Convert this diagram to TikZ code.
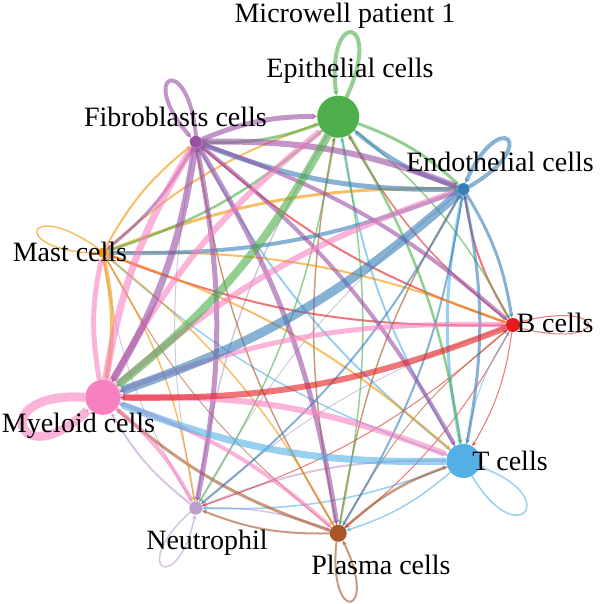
\documentclass[tikz,border=0pt]{standalone}
\usepackage{fontspec}
\setmainfont{Liberation Serif}
\usetikzlibrary{arrows.meta}
\definecolor{colb}{HTML}{E41A1C}
\definecolor{colendo}{HTML}{377EB8}
\definecolor{colepi}{HTML}{4DAF4A}
\definecolor{colfib}{HTML}{984EA3}
\definecolor{colmast}{HTML}{F29403}
\definecolor{colmye}{HTML}{F781BF}
\definecolor{colneu}{HTML}{BC9DCC}
\definecolor{colpla}{HTML}{A65628}
\definecolor{colt}{HTML}{54B0E4}
\begin{document}
\begin{tikzpicture}[x=1pt,y=1pt,
 cell/.style={circle, inner sep=0pt, outer sep=0pt},
 link/.style={opacity=0.6, -{Stealth[length=5pt,width=4.5pt]}},
 lab/.style={font=\fontsize{28}{28}\selectfont, anchor=base, inner sep=0pt}]
\useasboundingbox (-301.5,-279) rectangle (298.5,325);
% cell nodes (positions on the circle)
\foreach \n/\a/\r in {b/0/7, endo/40/6, epi/80/21, fib/120/6, mast/160/5, mye/200/17.5, neu/240/6.5, pla/280/8.5, t/320/17}
  \node[cell, minimum size=2*\r] (\n) at (\a:211.5) {};
% self loops: node/direction/length/spread/half-angle/width
\foreach \n/\a/\L/\sp/\h/\w in {epi/81/90/16/14/4, fib/113/85/18/25/4, endo/48/85/18/25/4, mast/161/90/17/25/1.5, mye/200/100/24/20/9, neu/240/85/18/25/1.5, pla/280/85/16/22/2, t/320/90/20/20/1.5, b/0/95/14/25/1}{
  \pgfmathtruncatemacro\aa{mod(\a-\h+360,360)}
  \pgfmathtruncatemacro\ab{mod(\a+\h+360,360)}
  \pgfmathsetmacro\ca{\a-\sp}
  \pgfmathsetmacro\cb{\a+\sp}
  \draw[link, draw=col\n, line width=\w pt] (\n.\aa) .. controls +(\ca:\L) and +(\cb:\L) .. (\n.\ab);
}
% directed edges: source/target/width
\foreach \s/\t/\w in {
 neu/mye/2, neu/epi/1.5, neu/fib/1, neu/endo/1, neu/mast/1, neu/b/1, neu/t/2, neu/pla/1.5,
 b/epi/1.5, b/fib/2, b/endo/2, b/mast/2, b/t/1, b/neu/1, b/pla/1,
 t/endo/3, t/epi/2, t/fib/2, t/mast/1.5, t/b/1, t/neu/1.5, t/pla/1.5,
 pla/mye/3, pla/neu/2, pla/epi/1.5, pla/fib/1.5, pla/endo/1.5, pla/t/2.5, pla/b/1, pla/mast/1,
 mast/epi/2, mast/fib/2, mast/endo/3, mast/mye/4, mast/b/2, mast/t/2, mast/neu/1.5, mast/pla/1.5,
 epi/fib/3, epi/endo/3, epi/mast/2.5, epi/b/1.5, epi/t/2.5, epi/neu/1.5, epi/pla/1.5,
 endo/fib/5, endo/epi/4, endo/mast/4, endo/b/3, endo/t/3, endo/neu/2, endo/pla/2,
 fib/epi/5, fib/endo/6, fib/mast/3, fib/b/4, fib/t/4, fib/neu/5, fib/pla/5,
 mye/epi/6, mye/fib/7, mye/endo/6, mye/mast/5, mye/b/5, mye/t/6, mye/neu/4, mye/pla/4,
 b/mye/6, t/mye/7, epi/mye/8, fib/mye/7, endo/mye/9}
  \draw[link, draw=col\s, line width=\w pt] (\s) to[bend left=11] (\t);
% filled cell discs on top
\foreach \n/\r in {b/7, endo/6, epi/21, fib/6, mast/5, mye/17.5, neu/6.5, pla/8.5, t/17}
  \fill[col\n] (\n) circle (\r);
% labels
\node[lab] (title) at (43.5,302) {Microwell patient 1};
\node[lab] (lepi) at (48.5,247) {Epithelial cells};
\node[lab] (lfib) at (-126,198) {Fibroblasts cells};
\node[lab] (lendo) at (198.5,153) {Endothelial cells};
\node[lab] (lmast) at (-231.5,63) {Mast cells};
\node[lab] (lb) at (253.5,-8) {B cells};
\node[lab] (lmye) at (-223,-107) {Myeloid cells};
\node[lab] (lt) at (208.5,-145) {T cells};
\node[lab] (lneu) at (-94.5,-224) {Neutrophil};
\node[lab] (lpla) at (79.5,-249) {Plasma cells};
\end{tikzpicture}
\end{document}
